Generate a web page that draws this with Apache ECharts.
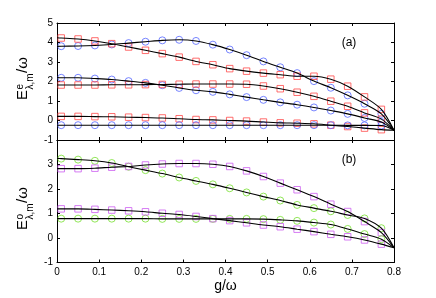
<!DOCTYPE html>
<html><head><meta charset="utf-8">
<script src="https://cdn.jsdelivr.net/npm/echarts/dist/echarts.min.js"></script>
<style>html,body{margin:0;padding:0;background:#fff}#c{width:436px;height:298px}</style>
</head><body><div id="c"></div>
<script>
// marker abscissae (g/omega)
const gMarkers = [0.01,0.05,0.09,0.13,0.17,0.21,0.25,0.29,0.33,0.37,0.41,0.45,0.49,0.53,0.57,0.61,0.65,0.69,0.73,0.77];
const xTicks = [0,0.1,0.2,0.3,0.4,0.5,0.6,0.7,0.8];

// panel (a): even-parity energies
const evenCircleUpper  = [3.81,3.82,3.85,3.90,3.97,4.04,4.11,4.14,4.08,3.89,3.64,3.35,3.03,2.73,2.43,2.02,1.68,1.29,0.86,0.34];
const evenSquareUpper  = [4.23,4.18,4.08,3.94,3.77,3.60,3.43,3.25,3.03,2.86,2.66,2.53,2.43,2.35,2.27,2.27,2.12,1.76,1.21,0.57];
const evenCircleMiddle = [2.19,2.19,2.15,2.10,2.02,1.93,1.81,1.67,1.55,1.47,1.34,1.20,1.06,0.93,0.81,0.67,0.51,0.34,0.13,-0.08];
const evenSquareMiddle = [1.82,1.82,1.82,1.83,1.83,1.84,1.85,1.86,1.87,1.87,1.87,1.86,1.77,1.63,1.45,1.24,0.99,0.73,0.39,0.07];
const evenSquareLower  = [0.21,0.21,0.20,0.19,0.17,0.15,0.13,0.09,0.05,0.03,0.00,-0.03,-0.08,-0.12,-0.14,-0.17,-0.24,-0.31,-0.39,-0.47];
const evenCircleLower  = [-0.24,-0.24,-0.24,-0.24,-0.24,-0.24,-0.24,-0.24,-0.24,-0.24,-0.24,-0.24,-0.24,-0.24,-0.24,-0.24,-0.24,-0.25,-0.25,-0.26];
// curve values at g=0 and g=0.8 (panel a)
const evenStart = {cu:3.80, su:4.24, cm:2.20, sm:1.82, sl:0.21, cl:-0.24};
const evenEnd = -0.5;

// panel (b): odd-parity energies
const oddCircleUpper = [3.24,3.20,3.15,3.06,2.91,2.77,2.63,2.47,2.33,2.19,2.03,1.86,1.69,1.53,1.35,1.22,1.09,0.94,0.80,0.40];
const oddSquareUpper = [2.83,2.83,2.85,2.89,2.92,2.98,3.02,3.04,3.04,3.01,2.92,2.74,2.51,2.24,1.97,1.69,1.38,1.08,0.67,0.22];
const oddCircleLower = [0.79,0.79,0.79,0.79,0.79,0.79,0.78,0.78,0.78,0.78,0.78,0.78,0.77,0.74,0.70,0.63,0.55,0.37,0.16,-0.05];
const oddSquareLower = [1.19,1.19,1.17,1.14,1.11,1.07,1.01,0.96,0.88,0.79,0.71,0.62,0.53,0.46,0.36,0.26,0.15,0.05,-0.08,-0.25];
const oddStart = {cu:3.25, su:2.83, cl:0.79, sl:1.19};
const oddEnd = -0.4;

const FONT = 'Liberation Sans, Arial, Helvetica, sans-serif';
const BLUE = '#5566ff', RED = '#ff4a4a', GREEN = '#77e030', PURPLE = '#cc5cf0';

function pts(vals){ return gMarkers.map((g,i)=>[g, vals[i]]); }
function lineSeries(vals, start, end, gi){
  return {type:'line', xAxisIndex: gi*2, yAxisIndex: gi*2, data: [[0,start]].concat(pts(vals)).concat([[0.8,end]]),
    symbol:'none', showSymbol:false, smooth:0.3, lineStyle:{color:'#000', width:1.1}, z:4, silent:true};
}
function markSeries(vals, shape, color, gi){
  return {type:'scatter', xAxisIndex: gi*2, yAxisIndex: gi*2, data: pts(vals),
    symbol: shape, symbolSize: shape==='circle'?7:6.5,
    itemStyle:{color:'rgba(0,0,0,0)', borderColor:color, borderWidth:1}, z:3, silent:true};
}
const lineCol = {color:'#000', width:1};
function xAx(gi, pos, labels){
  return {type:'value', gridIndex: gi, position: pos, min:0, max:0.8, interval:0.1,
    axisLine:{show:true, onZero:false, lineStyle:lineCol},
    axisTick:{show:true, inside:true, length:3, lineStyle:lineCol},
    splitLine:{show:false},
    axisLabel:{show:labels, color:'#000', fontSize:10, fontFamily:FONT, margin:5,
      formatter: v => { const k = xTicks.reduce((b,t)=>Math.abs(t-v)<Math.abs(b-v)?t:b, xTicks[0]); return k===0?'0':k.toFixed(1); }},
    name: (labels ? 'g/ω' : ''), nameLocation:'middle', nameGap:17,
    nameTextStyle:{color:'#000', fontSize:14, fontFamily:FONT}};
}
function yAx(gi, pos, labels, min, max, hideTop){
  return {type:'value', gridIndex: gi, position: pos, min:min, max:max, interval:1,
    axisLine:{show:true, onZero:false, lineStyle:lineCol},
    axisTick:{show:true, inside:true, length:3, lineStyle:lineCol},
    splitLine:{show:false},
    axisLabel:{show:labels, color:'#000', fontSize:10, fontFamily:FONT, margin:4,
      formatter: v => (hideTop && v===max) ? '' : String(v)}};
}
function rt(text, x, y, size){
  return {type:'text', x:x, y:y, rotation:Math.PI/2, silent:true,
    style:{text:text, fill:'#000', fontSize:size, fontFamily:FONT, textAlign:'left', textVerticalAlign:'middle', align:'left', verticalAlign:'middle'}};
}

const chart = echarts.init(document.getElementById('c'), null, {renderer:'canvas'});
chart.setOption({
  animation:false,
  backgroundColor:'#fff',
  grid:[{left:57, top:23, width:337, height:117}, {left:57, top:140, width:337, height:122.5}],
  xAxis:[xAx(0,'bottom',false), xAx(0,'top',false), xAx(1,'bottom',true), xAx(1,'top',false)],
  yAxis:[yAx(0,'left',true,-1,5,false), yAx(0,'right',false,-1,5,false), yAx(1,'left',true,-1,4,true), yAx(1,'right',false,-1,4,true)],
  series:[
    markSeries(evenCircleUpper,'circle',BLUE,0),
    markSeries(evenSquareUpper,'rect',RED,0),
    markSeries(evenCircleMiddle,'circle',BLUE,0),
    markSeries(evenSquareMiddle,'rect',RED,0),
    markSeries(evenSquareLower,'rect',RED,0),
    markSeries(evenCircleLower,'circle',BLUE,0),
    lineSeries(evenCircleUpper, evenStart.cu, evenEnd, 0),
    lineSeries(evenSquareUpper, evenStart.su, evenEnd, 0),
    lineSeries(evenCircleMiddle, evenStart.cm, evenEnd, 0),
    lineSeries(evenSquareMiddle, evenStart.sm, evenEnd, 0),
    lineSeries(evenSquareLower, evenStart.sl, evenEnd, 0),
    lineSeries(evenCircleLower, evenStart.cl, evenEnd, 0),
    markSeries(oddCircleUpper,'circle',GREEN,1),
    markSeries(oddSquareUpper,'rect',PURPLE,1),
    markSeries(oddCircleLower,'circle',GREEN,1),
    markSeries(oddSquareLower,'rect',PURPLE,1),
    lineSeries(oddCircleUpper, oddStart.cu, oddEnd, 1),
    lineSeries(oddSquareUpper, oddStart.su, oddEnd, 1),
    lineSeries(oddCircleLower, oddStart.cl, oddEnd, 1),
    lineSeries(oddSquareLower, oddStart.sl, oddEnd, 1)
  ],
  graphic:[
    {type:'text', x:349, y:43, silent:true, style:{text:'(a)', fill:'#000', fontSize:12, fontFamily:FONT, textAlign:'center', textVerticalAlign:'middle', align:'center', verticalAlign:'middle'}},
    {type:'text', x:349, y:160, silent:true, style:{text:'(b)', fill:'#000', fontSize:12, fontFamily:FONT, textAlign:'center', textVerticalAlign:'middle', align:'center', verticalAlign:'middle'}},
    rt('E', 22.5, 100, 15), rt('e', 20, 89.5, 10), rt('λ,m', 30.5, 89.5, 10), rt('/ω', 22.5, 73, 15),
    rt('E', 22.5, 230, 15), rt('o', 20, 219.5, 10), rt('λ,m', 30.5, 219.5, 10), rt('/ω', 22.5, 203, 15)
  ]
});
</script>
</body></html>
